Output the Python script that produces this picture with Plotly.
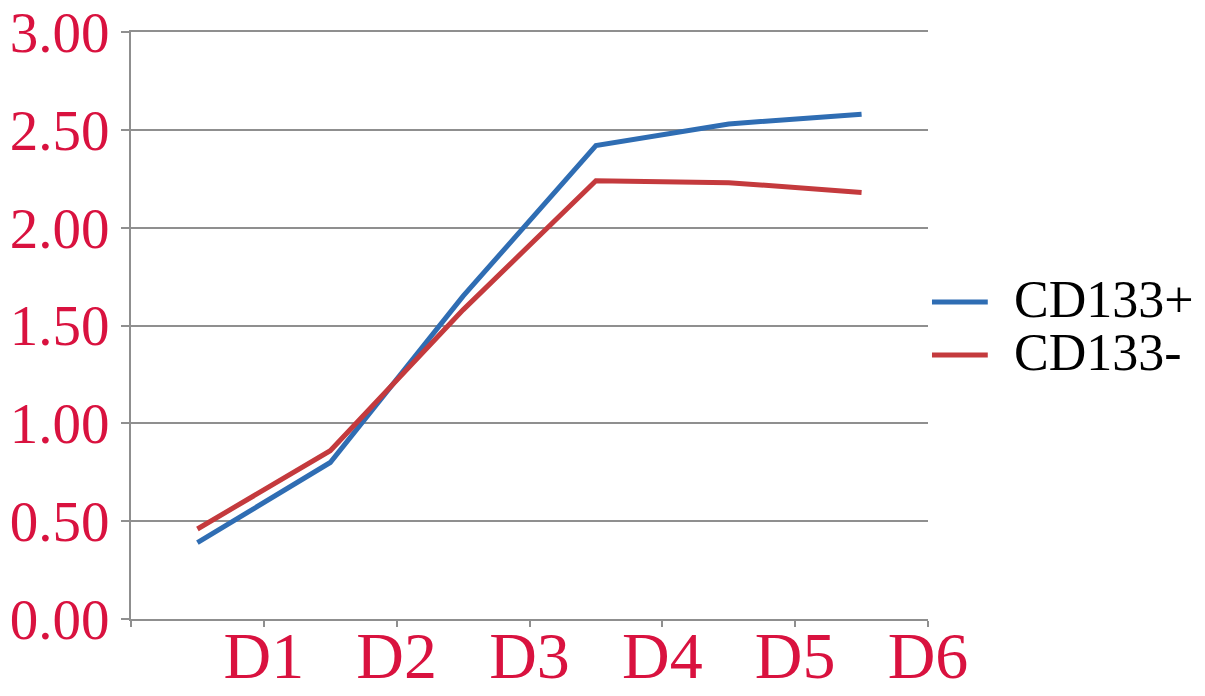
import plotly.graph_objects as go

categories = ["D1", "D2", "D3", "D4", "D5", "D6"]
series_names = ["CD133+", "CD133-"]
cd133_pos = [0.39, 0.80, 1.65, 2.42, 2.53, 2.58]
cd133_neg = [0.46, 0.86, 1.58, 2.24, 2.23, 2.18]
y_ticks = [0.0, 0.5, 1.0, 1.5, 2.0, 2.5, 3.0]
y_tick_labels = ["0.00", "0.50", "1.00", "1.50", "2.00", "2.50", "3.00"]

x_pos = [i + 0.5 for i in range(len(categories))]

RED_TXT = "#d9123f"
GRID = "#8f8f8f"
SERIF = "Liberation Serif, Times New Roman, serif"
COLORS = ["#2f6db3", "#c43a3d"]

fig = go.Figure()
for name, vals, col in zip(series_names, [cd133_pos, cd133_neg], COLORS):
    fig.add_trace(go.Scatter(x=x_pos, y=vals, mode="lines", name=name,
                             line=dict(color=col, width=5)))

fig.update_layout(
    width=1205, height=696,
    margin=dict(l=123, r=285, t=24, b=85, autoexpand=False),
    paper_bgcolor="white", plot_bgcolor="white",
    showlegend=False,
)

# legend drawn beside the plot
legend_y = [0.544, 0.4536]
for name, col, yy in zip(series_names, COLORS, legend_y):
    fig.add_shape(type="line", xref="paper", yref="paper",
                  x0=1.005, x1=1.075, y0=yy - 0.004, y1=yy - 0.004,
                  line=dict(color=col, width=5))
    fig.add_annotation(x=1.105, y=yy, xref="paper", yref="paper",
                       text=name, showarrow=False, xanchor="left",
                       yanchor="middle",
                       font=dict(family=SERIF, size=52, color="black"))

fig.update_xaxes(
    range=[0, 6],
    tickmode="array",
    tickvals=list(range(len(categories) + 1)),
    ticktext=[""] + categories,
    showgrid=False, zeroline=False,
    showline=True, linecolor=GRID, linewidth=2, mirror=True,
    ticks="outside", ticklen=6, tickcolor=GRID, tickwidth=2,
    tickfont=dict(family=SERIF, size=66, color=RED_TXT),
    ticklabelstandoff=-28,
    ticklabeloverflow="allow",
    automargin=False,
    fixedrange=True,
)
fig.update_yaxes(
    range=[0, 3],
    tickmode="array",
    tickvals=y_ticks,
    ticktext=y_tick_labels,
    showgrid=True, gridcolor=GRID, gridwidth=2,
    zeroline=False,
    showline=True, linecolor=GRID, linewidth=2,
    ticks="outside", ticklen=8, tickcolor=GRID, tickwidth=2,
    tickfont=dict(family=SERIF, size=57, color=RED_TXT),
    ticklabeloverflow="allow",
    automargin=False,
    fixedrange=True,
)

fig.write_html("out.html")
